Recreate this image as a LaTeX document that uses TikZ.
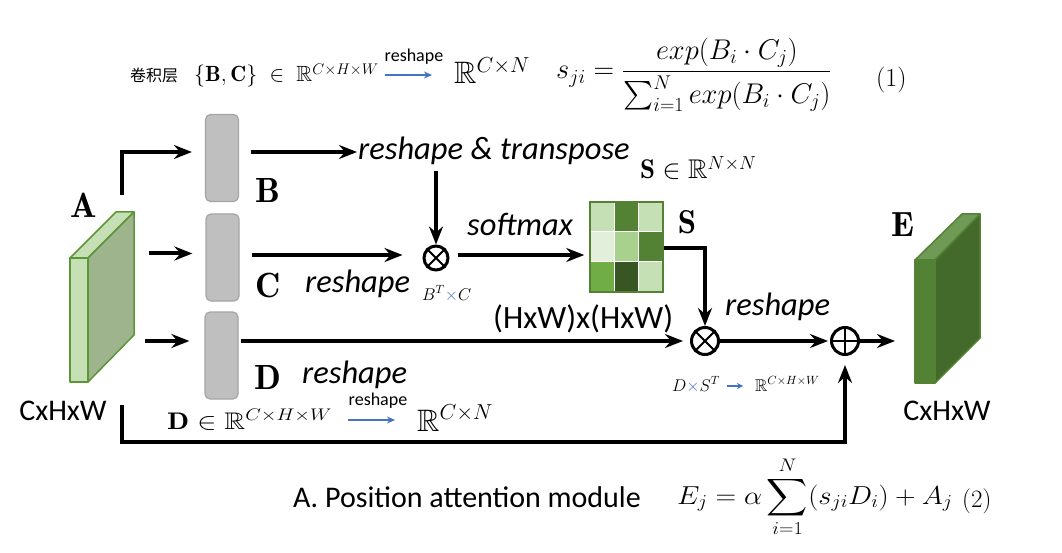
\RequirePackage{fix-cm}
\documentclass[tikz,border=0pt]{standalone}
\usepackage{amsmath,amssymb}
\usepackage{fontspec}
\newfontfamily\calibri{Carlito}
\newfontfamily\cjk{Noto Sans CJK SC}
\usetikzlibrary{arrows.meta,calc}
\definecolor{grayF}{HTML}{BFBFBF}
\definecolor{grayD}{HTML}{A5A5A5}
\definecolor{gA1}{HTML}{C5E0B4}
\definecolor{gA2}{HTML}{9DB48C}
\definecolor{gAs}{HTML}{5E9538}
\definecolor{gE1}{HTML}{548235}
\definecolor{gE2}{HTML}{43692B}
\definecolor{gE3}{HTML}{6F9A55}
\definecolor{mca}{HTML}{C5E0B4}
\definecolor{mcb}{HTML}{548235}
\definecolor{mcc}{HTML}{E2EFDA}
\definecolor{mcd}{HTML}{A9D18E}
\definecolor{mce}{HTML}{70AD47}
\definecolor{mcf}{HTML}{375623}
\definecolor{blueA}{HTML}{4472C4}
\begin{document}
\begin{tikzpicture}[x=1pt,y=-1pt,
  arr/.style={line width=4pt,-{Stealth[length=18pt,width=14pt,inset=6pt]}},
  thinarr/.style={draw=blueA,line width=1.2pt,-{Stealth[length=8pt,width=7pt]}},
  gbox/.style={draw=grayD,fill=grayF,rounded corners=5pt,line width=1.2pt,minimum width=33pt,minimum height=87pt,inner sep=0pt},
  opc/.style={circle,draw,line width=3pt,minimum size=27pt,inner sep=0pt},
  lab/.style={font=\fontsize{30}{36}\selectfont\calibri,inner sep=1pt},
  itl/.style={font=\fontsize{32.5}{38}\selectfont\calibri\itshape,inner sep=1pt},
  rsm/.style={font=\fontsize{18}{20}\selectfont\calibri,inner sep=1pt},
  bl/.style={font=\fontsize{35}{40}\selectfont,inner sep=0pt},
  mth/.style={font=\fontsize{22}{26}\selectfont,inner sep=0pt},
  sml/.style={font=\fontsize{17}{20}\selectfont,inner sep=0pt},
  face/.style={line width=1.5pt,line join=round}
]
\fill[white] (0,0) rectangle (1062,553);
\useasboundingbox (0,0) rectangle (1062,553);

% ---- feature map A
\filldraw[face,fill=gA1,draw=gAs] (70,258) -- (88,258) -- (88,382) -- (70,382) -- cycle;
\filldraw[face,fill=gA1,draw=gAs] (70,258) -- (116,212) -- (134,212) -- (88,258) -- cycle;
\filldraw[face,fill=gA2,draw=gAs] (88,258) -- (134,212) -- (134,335) -- (88,382) -- cycle;
\node[bl] (lA) at (84,205) {$\mathbf{A}$};
\node[lab,anchor=base] (szA) at (63,420) {CxHxW};

% ---- feature map E
\filldraw[face,fill=gE1,draw=gE1] (915,260) -- (935,260) -- (935,383) -- (915,383) -- cycle;
\filldraw[face,fill=gE3,draw=gE1] (915,260) -- (962,214) -- (980,214) -- (935,260) -- cycle;
\filldraw[face,fill=gE2,draw=gE1] (935,260) -- (980,214) -- (980,338) -- (935,383) -- cycle;
\node[bl] (lE) at (903,225) {$\mathbf{E}$};
\node[lab,anchor=base] (szE) at (947,420) {CxHxW};

% ---- conv boxes
\node[gbox] (B) at (222,158) {};
\node[gbox] (C) at (222.5,257.5) {};
\node[gbox] (D) at (221.5,355.5) {};
\node[bl] (lB) at (268,190) {$\mathbf{B}$};
\node[bl] (lC) at (268,285) {$\mathbf{C}$};
\node[bl] (lD) at (268,377) {$\mathbf{D}$};

% ---- operators
\node[opc,minimum size=24pt] (m1) at (436,258) {};
\draw[line width=2pt] (m1.45) -- (m1.225) (m1.135) -- (m1.315);
\node[opc] (m2) at (705,341) {};
\draw[line width=2pt] (m2.45) -- (m2.225) (m2.135) -- (m2.315);
\node[opc] (pl) at (845,341) {};
\draw[line width=2pt] (pl.north) -- (pl.south) (pl.west) -- (pl.east);

% ---- matrix S
\foreach \c [count=\i from 0] in {mca,mcb,mca,mcc,mcd,mcb,mce,mcf,mca}{
  \pgfmathtruncatemacro{\col}{mod(\i,3)}
  \pgfmathtruncatemacro{\row}{int(\i/3)}
  \filldraw[fill=\c,draw=white,line width=1pt] (590+\col*24.33,202+\row*30) rectangle ++(24.33,30);
}
\node[draw=mcb,line width=1.5pt,minimum width=73pt,minimum height=90pt,inner sep=0pt] (S) at (626.5,247) {};
\node[bl,font=\fontsize{33}{38}\selectfont] (lS) at (687,222) {$\mathbf{S}$};
\node[mth,font=\fontsize{27}{32}\selectfont,anchor=base west] (Sdef) at (640,179) {$\mathbf{S}\in\mathbb{R}^{N\times N}$};

% ---- texts
\node[itl,anchor=base west] (rt) at (357,160) {reshape \& transpose};
\node[itl,anchor=base west] (sm) at (466,236) {softmax};
\node[itl,anchor=base west] (rC) at (304,292) {reshape};
\node[itl,anchor=base west] (rD) at (301,383) {reshape};
\node[itl,anchor=base west] (rS) at (724,315) {reshape};
\node[lab,font=\fontsize{32.5}{38}\selectfont\calibri,anchor=base west] (hw) at (492,328) {(HxW)x(HxW)};
\node[sml,anchor=base west] (btc) at (422,300) {$B^T{\color{blueA}\times}C$};
\node[sml,anchor=base west] (dst) at (672,391) {$D{\color{blueA}\times}S^T$};
\node[sml,anchor=base west] (rchw) at (755,391) {$\mathbb{R}^{C\times H\times W}$};
\coordinate (da1) at (727,386);
\coordinate (da2) at (743,386);
\draw[thinarr,-{Stealth[length=6pt,width=6pt]}] (da1) -- (da2);

% ---- top formula
\node[font=\fontsize{16}{18}\selectfont\cjk,anchor=base west,inner sep=0pt] (cj) at (130,82) {卷积层};
\node[mth,anchor=base west] (f1) at (194,82) {$\{\mathbf{B},\mathbf{C}\}\;\in\;\mathbb{R}^{C\times H\times W}$};
\node[rsm] (rs1) at (414,57) {reshape};
\coordinate (ta1) at (385,75);
\coordinate (ta2) at (432,75);
\draw[thinarr] (ta1) -- (ta2);
\node[mth,font=\fontsize{31}{36}\selectfont,anchor=base west] (f2) at (454,84) {$\mathbb{R}^{C\times N}$};
\node[mth,font=\fontsize{28.5}{34}\selectfont,anchor=base west] (f3) at (556,79) {$\displaystyle s_{ji}=\frac{exp(B_i\cdot C_j)}{\sum_{i=1}^{N}exp(B_i\cdot C_j)}$};
\node[mth,font=\fontsize{26}{30}\selectfont,anchor=base west] (f4) at (876,87) {(1)};

% ---- D line formula
\node[mth,font=\fontsize{24}{28}\selectfont,anchor=base west] (f5) at (167,429) {\scalebox{1.2}[1]{$\mathbf{D}\in\mathbb{R}^{C\times H\times W}$}};
\node[rsm] (rs2) at (378,401) {reshape};
\coordinate (ba1) at (348,420);
\coordinate (ba2) at (395,420);
\draw[thinarr] (ba1) -- (ba2);
\node[mth,font=\fontsize{31}{36}\selectfont,anchor=base west] (f6) at (417,431) {$\mathbb{R}^{C\times N}$};

% ---- bottom caption and formula
\node[lab,anchor=base west] (cap) at (292,507) {A. Position attention module};
\node[mth,font=\fontsize{26}{30}\selectfont,anchor=base west] (f7) at (677,504) {\scalebox{1.1}[1]{$\displaystyle E_j=\alpha\sum_{i=1}^{N}(s_{ji}D_i)+A_j$}};
\node[mth,font=\fontsize{25}{30}\selectfont,anchor=base west] (f8) at (962,507) {(2)};

% ---- connectors
\coordinate (a1) at (122,195);
\draw[arr] (a1) |- ($(B.west)+(-13,-6)$);
\draw[arr] ($(C.west)+(-56,-4)$) -- ($(C.west)+(-13,-4)$);
\draw[arr] ($(D.west)+(-59,-14.5)$) -- ($(D.west)+(-15,-14.5)$);
\coordinate (bt) at ($(B.east)+(12,-6)$);
\draw[arr] (bt) -- (bt -| rt.west);
\draw[arr] ([yshift=-5pt]rt.south -| m1.north) -- (m1.north);
\coordinate (cs) at ($(C.east)+(12,-2.5)$);
\draw[arr] (cs) -- ($(cs -| m1.west)+(-20,0)$);
\draw[arr,shorten <=8pt,shorten >=5pt] (m1.east |- cs) -- (S.west |- cs);
\draw[arr] ($(S.east)+(0,1)$) -| (m2.north);
\coordinate (ds) at ($(D.east)+(2,-14.5)$);
\draw[arr] (ds) -- ($(ds -| m2.west)+(-7,0)$);
\draw[arr,shorten >=2pt] (m2.east) -- (pl.west);
\coordinate (eo) at (895,341);
\draw[arr] (pl.east) -- (eo);
\coordinate (sk) at (122,405);
\coordinate (bk) at (122,442);
\draw[arr,shorten >=9pt] (sk) -- (bk) -| (pl.south);
\end{tikzpicture}
\end{document}
